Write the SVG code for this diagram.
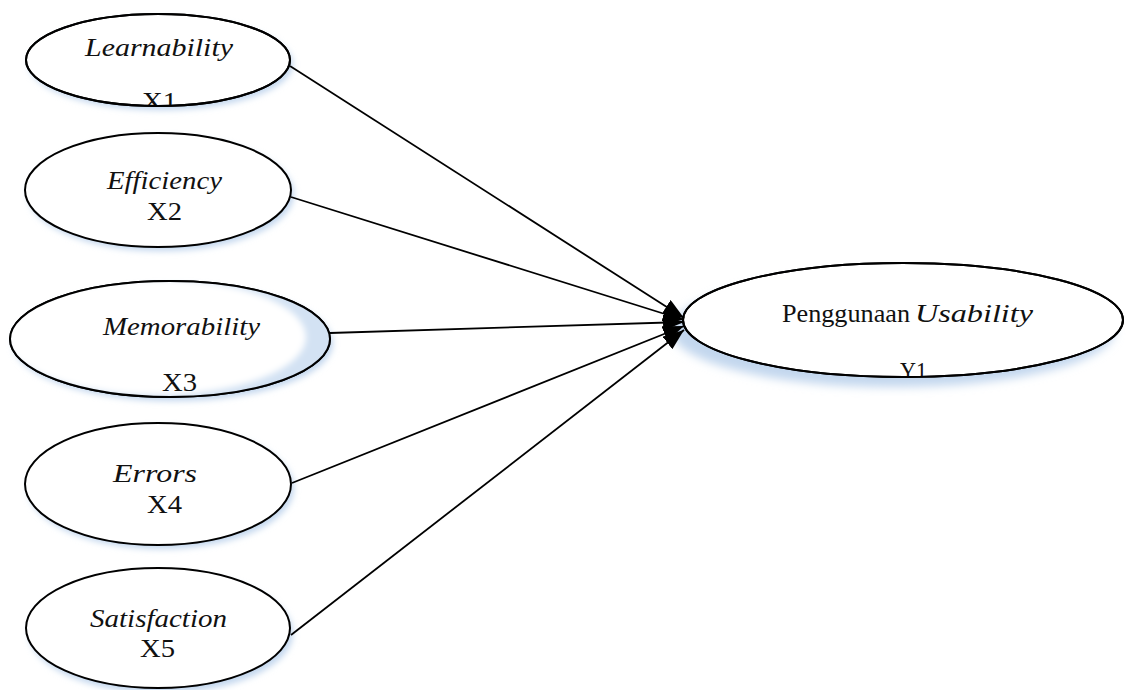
<svg xmlns="http://www.w3.org/2000/svg" width="1132" height="690" viewBox="0 0 1132 690">
  <defs>
    <style>
      .node { fill: #ffffff; stroke: #000000; stroke-width: 2; }
      .outline { fill: none; stroke: #000000; stroke-width: 2; }
      .shadow { fill: #c3d7ee; filter: url(#blur); }
      .edge { stroke: #000000; stroke-width: 1.8; fill: none; marker-end: url(#arrow); }
      .lbl { font-family: 'Liberation Serif', 'Times New Roman', serif; font-size: 25px; fill: #111111; }
      .it { font-style: italic; }
    </style>
    <filter id="blur" x="-20%" y="-20%" width="140%" height="140%">
      <feGaussianBlur stdDeviation="3"/>
    </filter>
    <filter id="blur2" x="-20%" y="-20%" width="140%" height="140%">
      <feGaussianBlur stdDeviation="5"/>
    </filter>
    <marker id="arrow" markerUnits="userSpaceOnUse" markerWidth="24" markerHeight="18" refX="21" refY="8" orient="auto">
      <path d="M0,0 L21,8 L0,16 Z" fill="#000000"/>
    </marker>
    <clipPath id="c1"><ellipse cx="158" cy="60" rx="132" ry="46"/></clipPath>
    <clipPath id="c3"><ellipse cx="170" cy="339" rx="160" ry="58"/></clipPath>
    <clipPath id="cy"><ellipse cx="903" cy="320" rx="220" ry="57"/></clipPath>
  </defs>

  <g id="x1">
    <ellipse class="shadow" cx="161" cy="64" rx="132" ry="46"/>
    <ellipse class="node" cx="158" cy="60" rx="132" ry="46"/>
    <text class="lbl it" x="85" y="56" textLength="148" lengthAdjust="spacingAndGlyphs">Learnability</text>
    <text class="lbl" x="142" y="110" textLength="35" lengthAdjust="spacingAndGlyphs" clip-path="url(#c1)">X1</text>
    <ellipse class="outline" cx="158" cy="60" rx="132" ry="46"/>
  </g>

  <g id="x2">
    <ellipse class="shadow" cx="161" cy="194" rx="133" ry="57"/>
    <ellipse class="node" cx="158" cy="190" rx="133" ry="57"/>
    <text class="lbl it" x="107" y="189" textLength="115" lengthAdjust="spacingAndGlyphs">Efficiency</text>
    <text class="lbl" x="147" y="220" textLength="35" lengthAdjust="spacingAndGlyphs">X2</text>
  </g>

  <g id="x3">
    <ellipse class="shadow" cx="173" cy="343" rx="160" ry="58"/>
    <ellipse class="node" cx="170" cy="339" rx="160" ry="58"/>
    <g clip-path="url(#c3)">
      <ellipse cx="170" cy="339" rx="160" ry="58" fill="#d3e2f3"/>
      <ellipse cx="156" cy="337" rx="150" ry="58" fill="#ffffff" filter="url(#blur)"/>
    </g>
    <ellipse class="outline" cx="170" cy="339" rx="160" ry="58"/>
    <text class="lbl it" x="103" y="335" textLength="157" lengthAdjust="spacingAndGlyphs">Memorability</text>
    <text class="lbl" x="162" y="391" textLength="35" lengthAdjust="spacingAndGlyphs">X3</text>
  </g>

  <g id="x4">
    <ellipse class="shadow" cx="161" cy="488" rx="133" ry="61"/>
    <ellipse class="node" cx="158" cy="484" rx="133" ry="61"/>
    <text class="lbl it" x="113" y="482" textLength="84" lengthAdjust="spacingAndGlyphs">Errors</text>
    <text class="lbl" x="147" y="513" textLength="35" lengthAdjust="spacingAndGlyphs">X4</text>
  </g>

  <g id="x5">
    <ellipse class="shadow" cx="161" cy="633" rx="132" ry="60"/>
    <ellipse class="node" cx="158" cy="628" rx="132" ry="60"/>
    <text class="lbl it" x="90" y="627" textLength="137" lengthAdjust="spacingAndGlyphs">Satisfaction</text>
    <text class="lbl" x="140" y="657" textLength="35" lengthAdjust="spacingAndGlyphs">X5</text>
  </g>

  <g id="y1">
    <ellipse cx="893" cy="330" rx="222" ry="57" fill="#c3d7ee" filter="url(#blur2)"/>
    <ellipse class="node" cx="903" cy="320" rx="220" ry="57"/>
    <text class="lbl" x="782" y="322" textLength="128" lengthAdjust="spacingAndGlyphs">Penggunaan</text>
    <text class="lbl it" x="915" y="322" textLength="118" lengthAdjust="spacingAndGlyphs">Usability</text>
    <text class="lbl" x="900" y="380" textLength="27" lengthAdjust="spacingAndGlyphs" clip-path="url(#cy)">Y1</text>
    <ellipse class="outline" cx="903" cy="320" rx="220" ry="57"/>
  </g>

  <g id="connectors">
    <line class="edge" x1="290" y1="66" x2="684" y2="318"/>
    <line class="edge" x1="291" y1="197" x2="684" y2="320"/>
    <line class="edge" x1="330" y1="333" x2="684" y2="322"/>
    <line class="edge" x1="292" y1="483" x2="684" y2="326"/>
    <line class="edge" x1="291" y1="635" x2="684" y2="330"/>
  </g>
</svg>
